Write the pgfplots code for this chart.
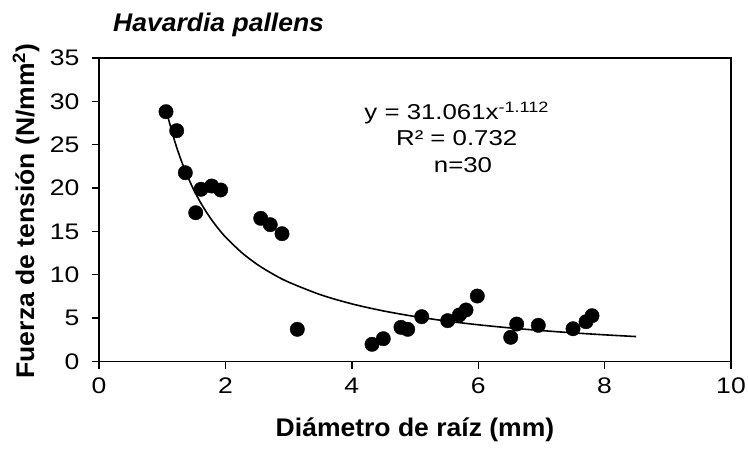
\documentclass[border=0pt]{standalone}
\usepackage{fontspec}
\setmainfont{Liberation Sans}
\newfontfamily\tickfont[FakeStretch=1.18]{Liberation Sans}
\newfontfamily\eqfont[FakeStretch=1.2]{Liberation Sans}
\newfontfamily\labfont[FakeStretch=1.04]{Liberation Sans}
\usepackage{pgfplots}
\pgfplotsset{compat=1.18}

\begin{document}
\begin{tikzpicture}
\begin{axis}[
    scale only axis,
    width=632pt, height=303.5pt,
    xmin=0, xmax=10, ymin=0, ymax=35,
    xtick={0,2,...,10}, ytick={0,5,...,35},
    tick pos=left, tick align=outside,
    major tick length=7pt,
    axis line style={line width=1.9pt},
    every tick/.style={black, line width=1.4pt},
    /pgf/number format/assume math mode=true,
    tick label style={font=\tickfont\fontsize{22.5}{26}\selectfont},
    yticklabel style={xshift=-9pt},
    xticklabel style={yshift=-6pt},
    xlabel={Diámetro de raíz (mm)},
    ylabel={Fuerza de tensión (N/mm\textsuperscript{2})},
    label style={font=\labfont\fontsize{25.5}{30}\selectfont\bfseries},
    xlabel style={at={(axis description cs:0.5,-0.2257)}, anchor=center},
    ylabel style={at={(axis description cs:-0.1155,0.496)}, anchor=center},
    clip=false,
]
\addplot[only marks, mark=*, mark size=7.2pt, black] coordinates {
    (1.060,28.81) (1.229,26.62) (1.366,21.77) (1.530,17.16) (1.614,19.86)
    (1.783,20.24) (1.925,19.78) (2.559,16.51) (2.710,15.78) (2.896,14.74)
    (3.138,3.71) (4.320,1.98) (4.498,2.63) (4.778,3.94) (4.884,3.71)
    (5.106,5.17) (5.517,4.71) (5.701,5.36) (5.807,5.94) (5.986,7.55)
    (6.514,2.79) (6.609,4.32) (6.951,4.17) (7.500,3.78) (7.706,4.59)
    (7.801,5.28)
};
\addplot[black, line width=1.6pt, smooth, no marks] coordinates {
    (1.08,28.51) (1.1,27.94) (1.2,25.36) (1.3,23.20) (1.4,21.37) (1.5,19.79)
    (1.6,18.42) (1.7,17.22) (1.8,16.16) (1.9,15.22) (2.0,14.37) (2.25,12.61)
    (2.5,11.21) (2.75,10.09) (3.0,9.155) (3.5,7.713) (4.0,6.649) (4.5,5.833)
    (5.0,5.188) (5.5,4.666) (6.0,4.236) (6.5,3.875) (7.0,3.569) (7.5,3.305)
    (8.0,3.076) (8.5,2.875)
};
\node[anchor=base, inner sep=0, font=\eqfont\fontsize{21.5}{26}\selectfont] at (axis cs:5.66,27.89) {y = 31.061x\textsuperscript{-1.112}};
\node[anchor=base, inner sep=0, font=\eqfont\fontsize{21.5}{26}\selectfont] at (axis cs:5.66,24.89) {R² = 0.732};
\node[anchor=base, inner sep=0, font=\eqfont\fontsize{21.5}{26}\selectfont] at (axis cs:5.76,21.77) {n=30};
\end{axis}
\node[anchor=base west, inner sep=0, font=\labfont\fontsize{25.5}{30}\selectfont\bfseries\itshape]
    at ([xshift=14pt,yshift=26pt]current axis.north west) {Havardia pallens};
\pgfresetboundingbox
\path[use as bounding box] ([xshift=-99pt,yshift=-88.5pt]current axis.south west)
    rectangle ([xshift=17pt,yshift=58pt]current axis.north east);
\end{tikzpicture}
\end{document}
